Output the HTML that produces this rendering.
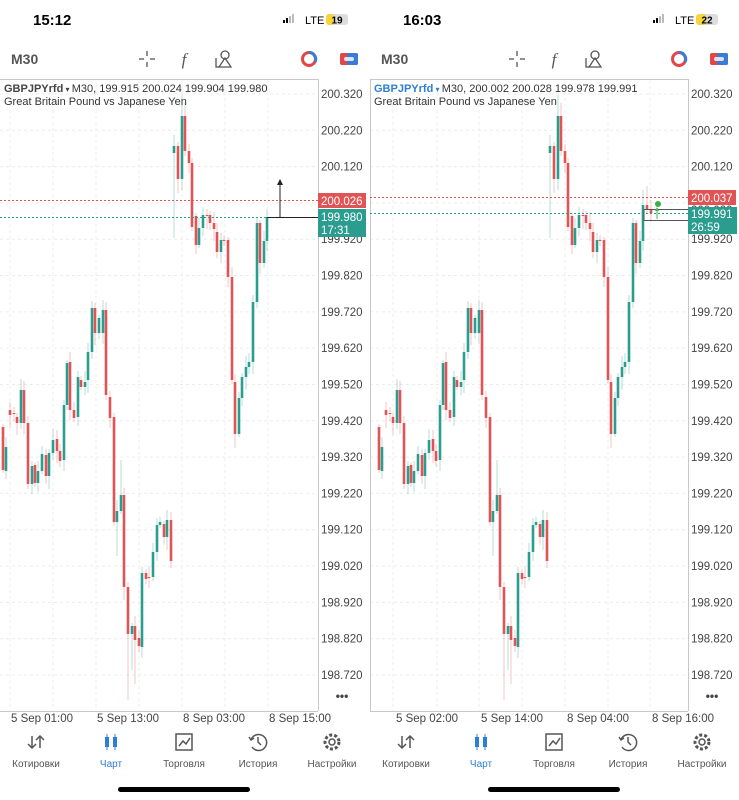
<!DOCTYPE html>
<html><head><meta charset="utf-8">
<style>
html,body{margin:0;padding:0;background:#fff;width:739px;height:800px;overflow:hidden;font-family:"Liberation Sans","DejaVu Sans",sans-serif;}
svg{position:absolute;left:0;top:0}
</style></head>
<body>
<svg id="s" width="739" height="800" xmlns="http://www.w3.org/2000/svg" font-family="Liberation Sans, DejaVu Sans, sans-serif"></svg>
<script>
const S=document.getElementById('s');
let h='';
const G='#2a9d8f',R='#e05455';
function Y(p){return 94+(200.32-p)*363.1;}
const L=[[3,427,470],[6,471,447],[10,410,415],[14,413,414],[17,417,423],[21,423,390],[24,390,423],[28,423,484],[32,484,466],[35,465,483],[38,483,471],[42,471,454],[46,455,476],[49,476,453],[53,453,440],[57,439,451],[60,451,461],[64,460,405],[67,405,363],[70,362,410],[74,410,418],[78,417,377],[81,380,387],[85,387,382],[88,380,352],[92,352,308],[95,308,333],[99,333,318],[103,333,310],[106,310,395],[110,397,418],[114,417,522],[117,522,511],[121,511,495],[124,495,587],[128,587,634],[132,634,626],[135,626,640],[139,638,646],[142,647,573],[146,573,579],[149,577,578],[153,577,552],[157,552,525],[160,525,522],[164,524,537],[167,537,520],[171,520,561],
[174,153,146],[178,146,179],[182,179,116],[185,116,151],[189,151,163],[192,163,227],[196,216,245],[199,245,228],[203,228,215],[207,215,216],[210,215,223],[214,223,229],[217,232,252],[221,252,240],[224,240,241],[228,240,277],[232,277,380],[235,382,434],[239,434,398],[242,398,377],[246,377,367],[249,367,362],[253,362,302],[257,302,223],[260,223,263],[264,263,241]];
const WO={128:[null,700],135:[null,684],117:[null,556],121:[460,null],124:[null,600],174:[135,238],182:[95,null],185:[103,null],178:[null,193],235:[null,448],132:[null,670]};
function candles(off,data){
  data.forEach((d,i)=>{
    const [x,o,c]=d;const t=Math.min(o,c),b=Math.max(o,c);
    let w1=3+((i*7)%9),w2=3+((i*5)%11);
    let hi=t-w1,lo=b+w2;
    if(WO[x]){if(WO[x][0])hi=WO[x][0];if(WO[x][1])lo=WO[x][1];}
    if(d[3])hi=d[3];
    const col=c<o?G:R;const X=off+x+(off?6:0);
    h+=`<line x1="${X}" y1="${hi}" x2="${X}" y2="${lo}" stroke="${col}" stroke-opacity="0.35" stroke-width="1"/>`;
    h+=`<rect x="${X-1.3}" y="${t}" width="2.6" height="${Math.max(1,b-t)}" fill="${col}"/>`;
  });
}
const prices=['200.320','200.220','200.120','199.920','199.820','199.720','199.620','199.520','199.420','199.320','199.220','199.120','199.020','198.920','198.820','198.720'];
function panel(x0,right,vgrid,times){
  // grid
  prices.concat(['200.020']).forEach(p=>{const y=Y(+p);h+=`<line x1="${x0}" y1="${y}" x2="${right}" y2="${y}" stroke="#ececec" stroke-dasharray="3,3"/>`;});
  vgrid.forEach(v=>{h+=`<line x1="${x0+v}" y1="80" x2="${x0+v}" y2="711" stroke="#ececec" stroke-dasharray="3,3"/>`;});
  h+=`<line x1="${x0}" y1="79.5" x2="${right}" y2="79.5" stroke="#c8c8c8"/>`;
  h+=`<line x1="${x0}" y1="711.5" x2="${right}" y2="711.5" stroke="#c8c8c8"/>`;
  h+=`<line x1="${right+0.5}" y1="79" x2="${right+0.5}" y2="711" stroke="#c8c8c8"/>`;
  prices.forEach(p=>{h+=`<text x="${right+3}" y="${Y(+p)+4}" font-size="11.5" fill="#444">${p}</text>`;});
  h+=`<text x="${right+24}" y="700" font-size="12" fill="#444" text-anchor="middle" font-weight="bold">•••</text>`;
  times.forEach(t=>{h+=`<text x="${x0+t[0]}" y="722" font-size="11.5" fill="#444" text-anchor="middle">${t[1]}</text>`;});
}
panel(0,318,[10,53,96,139,182,225,268],[[42,'5 Sep 01:00'],[128,'5 Sep 13:00'],[214,'8 Sep 03:00'],[300,'8 Sep 15:00']]);
panel(370,688,[23,67,109,152,195,238,280],[[57,'5 Sep 02:00'],[142,'5 Sep 14:00'],[228,'8 Sep 04:00'],[313,'8 Sep 16:00']]);
h+=`<line x1="370.5" y1="79" x2="370.5" y2="711" stroke="#c8c8c8"/>`;
// left candles
candles(0,L.concat([[267,241,217]]));
candles(370,L.concat([[267,241,205,190],[271,205,209,186],[275,209,213,200]]));
// left price lines
h+=`<line x1="0" y1="200.5" x2="318" y2="200.5" stroke="${R}" stroke-dasharray="2,2"/>`;
h+=`<line x1="0" y1="217.5" x2="318" y2="217.5" stroke="${G}" stroke-dasharray="2,2"/>`;
h+=`<line x1="267" y1="217.5" x2="318" y2="217.5" stroke="#222"/>`;
h+=`<line x1="280" y1="217" x2="280" y2="184" stroke="#222"/><path d="M277,185 L280,179 L283,185Z" fill="#222"/>`;
h+=`<rect x="318" y="193" width="48" height="15" fill="${R}"/><text x="321" y="205" font-size="11.5" fill="#fff">200.026</text>`;
h+=`<rect x="318" y="209" width="48" height="28" fill="${G}"/><text x="321" y="221" font-size="11.5" fill="#fff">199.980</text><text x="321" y="234" font-size="11.5" fill="#fff">17:31</text>`;
// right price lines
h+=`<line x1="370" y1="197.5" x2="688" y2="197.5" stroke="${R}" stroke-dasharray="2,2"/>`;
h+=`<line x1="370" y1="213.5" x2="688" y2="213.5" stroke="${G}" stroke-dasharray="2,2"/>`;
h+=`<line x1="644" y1="209.5" x2="688" y2="209.5" stroke="#555"/><line x1="644" y1="220.5" x2="688" y2="220.5" stroke="#555"/>`;
h+=`<line x1="644" y1="209" x2="644" y2="221" stroke="#555"/>`;
h+=`<line x1="657" y1="219" x2="657" y2="209" stroke="#4caf50"/><path d="M655,211 L657,207 L659,211Z" fill="#4caf50"/>`;
h+=`<circle cx="658" cy="204" r="3" fill="#3cb043"/>`;
h+=`<text x="691" y="214" font-size="11.5" fill="#444">200.020</text>`;
h+=`<rect x="688" y="190" width="48" height="15" fill="${R}"/><text x="691" y="202" font-size="11.5" fill="#fff">200.037</text>`;
h+=`<rect x="688" y="207" width="49" height="27" fill="${G}"/><text x="691" y="218" font-size="11.5" fill="#fff">199.991</text><text x="691" y="231" font-size="11.5" fill="#fff">26:59</text>`;
// headers
function header(x0,time,bat,sym){
  h+=`<text x="${x0+33}" y="25" font-size="15" font-weight="bold" fill="#000">${time}</text>`;
  const bx=x0+283;
  [[0,3],[3,5],[6,7],[9,9]].forEach((b,i)=>{h+=`<rect x="${bx+b[0]}" y="${23-b[1]}" width="2" height="${b[1]}" fill="${i<2?'#000':'#bbb'}" rx="0.5"/>`;});
  h+=`<text x="${x0+305}" y="24" font-size="11" fill="#000">LTE</text>`;
  h+=`<rect x="${x0+326}" y="14" width="22" height="11" rx="3" fill="#ddd"/><rect x="${x0+326}" y="14" width="${bat}" height="11" rx="3" fill="#f7d33c"/>`;
  h+=`<text x="${x0+337}" y="23.5" font-size="10" font-weight="bold" text-anchor="middle" fill="#000">${time=='15:12'?'19':'22'}</text>`;
  h+=`<text x="${x0+11}" y="64" font-size="14" font-weight="bold" fill="#555">M30</text>`;
  // crosshair
  const c=x0+147;h+=`<g stroke="#555" stroke-width="1.3"><line x1="${c-8}" y1="59" x2="${c-3}" y2="59"/><line x1="${c+3}" y1="59" x2="${c+8}" y2="59"/><line x1="${c}" y1="51" x2="${c}" y2="56"/><line x1="${c}" y1="62" x2="${c}" y2="67"/></g>`;
  h+=`<text x="${x0+184}" y="65" font-size="17" font-style="italic" fill="#555" text-anchor="middle" font-family="Liberation Serif,serif">f</text>`;
  h+=`<g stroke="#555" stroke-width="1.3" fill="none"><circle cx="${x0+225}" cy="55" r="4"/><path d="M${x0+219},67 L${x0+225},58 L${x0+231},67Z"/><path d="M${x0+216},58 v9 h3"/></g>`;
  h+=`<circle cx="${x0+309}" cy="59" r="6.5" fill="none" stroke="#e04848" stroke-width="3"/><path d="M${x0+309},52.5 A6.5,6.5 0 0 1 ${x0+315},62" fill="none" stroke="#3a7bd5" stroke-width="3"/>`;
  h+=`<rect x="${x0+340}" y="53" width="18" height="12" rx="2" fill="#e04848"/><rect x="${x0+347}" y="53" width="11" height="12" rx="2" fill="#3a7bd5"/><rect x="${x0+344}" y="57" width="10" height="4" rx="2" fill="#fff" opacity="0.8"/>`;
  h+=`<text x="${x0+4}" y="92" font-size="11" fill="#333"><tspan fill="${sym}" font-weight="bold">GBPJPYrfd</tspan><tspan fill="${sym}" font-size="8"> ▾ </tspan>M30, ${time=='15:12'?'199.915 200.024 199.904 199.980':'200.002 200.028 199.978 199.991'}</text>`;
  h+=`<text x="${x0+4}" y="105" font-size="11" fill="#333">Great Britain Pound vs Japanese Yen</text>`;
}
header(0,'15:12',8,'#444');
header(370,'16:03',10,'#2d7fd3');
// footer
function footer(x0){
  const cols=[[36,'Котировки'],[111,'Чарт'],[184,'Торговля'],[258,'История'],[332,'Настройки']];
  cols.forEach((c,i)=>{const cx=x0+c[0];const col=i==1?'#2d7fd3':'#555';
    h+=`<text x="${cx}" y="767" font-size="10" fill="${col}" text-anchor="middle">${c[1]}</text>`;
    const g=`stroke="${col}" stroke-width="1.5" fill="none"`;
    if(i==0)h+=`<g ${g}><path d="M${cx-4},736 v12 M${cx-8},744 l4,4 l4,-4 M${cx+4},748 v-12 M${cx},740 l4,-4 l4,4"/></g>`;
    if(i==1)h+=`<g fill="${col}"><rect x="${cx-6}" y="737" width="4" height="10"/><rect x="${cx+2}" y="737" width="4" height="10"/><rect x="${cx-4.5}" y="734" width="1" height="16"/><rect x="${cx+3.5}" y="734" width="1" height="16"/></g>`;
    if(i==2)h+=`<g ${g}><rect x="${cx-8}" y="734" width="16" height="16"/><path d="M${cx-5},746 l4,-5 l3,3 l4,-6"/></g>`;
    if(i==3)h+=`<g ${g}><path d="M${cx-7},740 A8,8 0 1 1 ${cx-6},747"/><path d="M${cx-9},737 l2,3 l3,-2"/><path d="M${cx},737 v5 l3,3"/></g>`;
    if(i==4)h+=`<g ${g}><circle cx="${cx}" cy="742" r="3"/><circle cx="${cx}" cy="742" r="7" stroke-dasharray="3,2" stroke-width="3"/></g>`;
  });
  h+=`<rect x="${x0+118}" y="787" width="132" height="5" rx="2.5" fill="#000"/>`;
}
footer(0);footer(370);
S.innerHTML=h;
</script>
</body></html>
